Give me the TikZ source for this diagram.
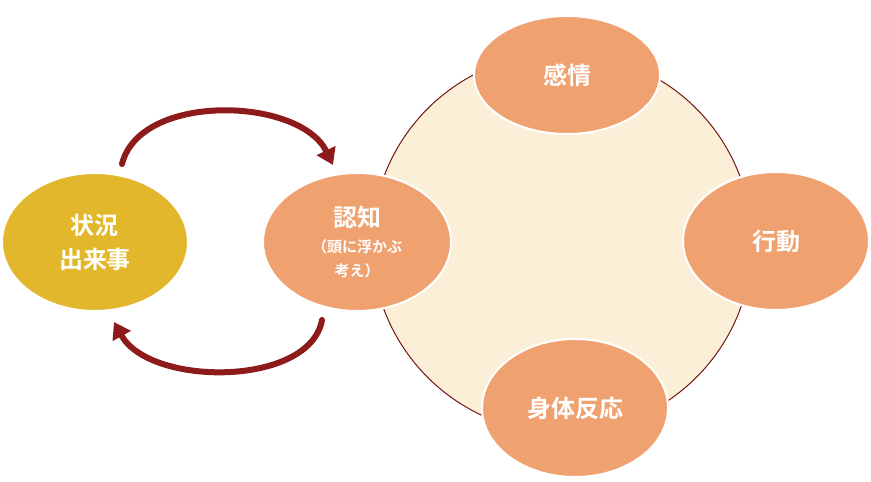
\documentclass[tikz,border=0pt]{standalone}
\usepackage{fontspec}
\setmainfont{Noto Sans CJK JP}[BoldFont={Noto Sans CJK JP Bold}]
\usetikzlibrary{arrows.meta,shapes.geometric}
\definecolor{salmon}{HTML}{F0A170}
\definecolor{gold}{HTML}{E2B72C}
\definecolor{cream}{HTML}{FBF0D7}
\definecolor{darkred}{HTML}{8E1B1B}
\begin{document}
\begin{tikzpicture}[x=1pt,y=1pt,line cap=round]
	\useasboundingbox (0,0) rectangle (871,482);
	\tikzset{
		bubble/.style={ellipse,draw=white,line width=2pt,fill=salmon,text=white,font=\bfseries\fontsize{24}{28}\selectfont,align=center},
		cycle/.style={draw=darkred,line width=6pt,-{Triangle[width=20pt,length=16pt]}}
	}
	% ring behind
	\node[circle,draw=darkred!80!black,line width=1pt,fill=cream,minimum size=380pt] (ring) at (562,239) {};
	\node[bubble,minimum width=186pt,minimum height=118pt] (feel) at (567,407) {感情};
	\node[bubble,minimum width=186pt,minimum height=138pt] (act) at (776,241) {行動};
	\node[bubble,minimum width=186pt,minimum height=138pt] (body) at (575,74) {身体反応};
	\node[bubble,minimum width=188pt,minimum height=138pt] (cog) at (357,240) {認知\\[-2pt]{\fontsize{15}{19}\selectfont （頭に浮かぶ}\\[-4pt]{\fontsize{15}{19}\selectfont 考え）}};
	\node[bubble,fill=gold,minimum width=186pt,minimum height=138pt,font=\bfseries\fontsize{24}{34}\selectfont] (event) at (95,240) {状況\\出来事};
	% arrows between event and thought
	\coordinate (a1) at (122,318);
	\coordinate (a2) at (333,317);
	\coordinate (b1) at (322,162);
	\coordinate (b2) at (114,160);
	\draw[cycle] (a1) .. controls (140,390) and (300,385) .. (a2);
	\draw[cycle] (b1) .. controls (310,95) and (150,95) .. (b2);
\end{tikzpicture}
\end{document}
